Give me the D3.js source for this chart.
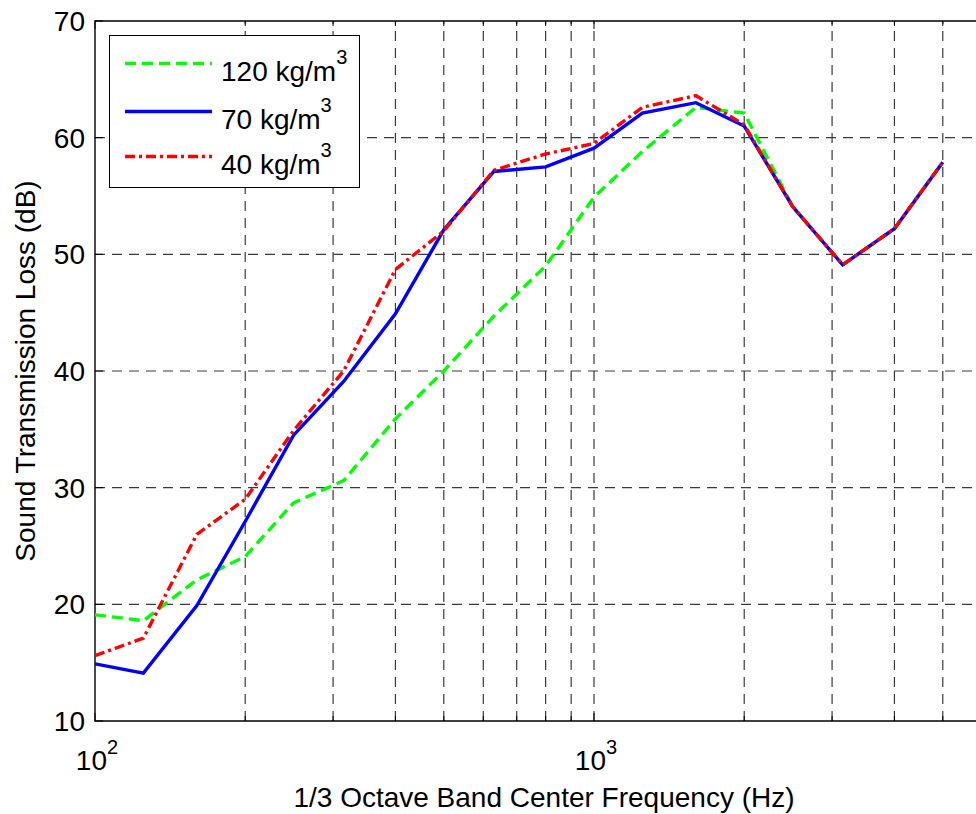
<!DOCTYPE html>
<html>
<head>
<meta charset="utf-8">
<script src="https://cdn.jsdelivr.net/npm/d3@7"></script>
<style>
  body { margin: 0; background: #fff; }
  text { font-family: "Liberation Sans", Arial, Helvetica, sans-serif; fill: #000; }
</style>
</head>
<body>
<script>
// frequencies (Hz), 1/3 octave bands
var freqs = [100, 125, 160, 200, 250, 315, 400, 500, 630, 800, 1000, 1250, 1600, 2000, 2500, 3150, 4000, 5000];

// transmission loss (dB) for each density
var tl120 = [19.1, 18.6, 22.1, 24.1, 28.7, 30.6, 35.9, 40.0, 44.7, 49.0, 54.9, 58.8, 62.6, 62.1, 54.1, 49.1, 52.2, 57.9];
var tl70 = [14.9, 14.1, 19.9, 27.1, 34.5, 39.1, 44.9, 52.1, 57.1, 57.5, 59.1, 62.1, 63.0, 61.0, 54.1, 49.1, 52.2, 57.9];
var tl40 = [15.6, 17.1, 26.0, 29.0, 34.9, 40.0, 48.7, 52.0, 57.2, 58.6, 59.5, 62.6, 63.6, 61.1, 54.1, 49.1, 52.2, 57.9];

var seriesNames = ["120 kg/m", "70 kg/m", "40 kg/m"];

// axis ticks
var yTicks = [10, 20, 30, 40, 50, 60, 70];
var xMajor = [100, 1000];
var xMajorExp = ["2", "3"];
var xMinor = [200, 300, 400, 500, 600, 700, 800, 900, 2000, 3000, 4000, 5000, 6000, 7000, 8000, 9000];

var W = 976, H = 814;
var mLeft = 95, mTop = 21, mBottom = 721, plotW = 998;
var fs = 28;

var svg = d3.select("body").append("svg")
  .attr("width", W)
  .attr("height", H);

var x = d3.scaleLog().domain([100, 10000]).range([mLeft, mLeft + plotW]);
var y = d3.scaleLinear().domain([10, 70]).range([mBottom, mTop]);

// grid
var grid = svg.append("g")
  .attr("stroke", "#3a3a3a")
  .attr("stroke-width", 1.2)
  .attr("stroke-dasharray", "10,7");

grid.selectAll("line.v")
  .data(xMinor.concat([1000]))
  .enter().append("line")
  .attr("x1", d => x(d)).attr("x2", d => x(d))
  .attr("y1", mBottom).attr("y2", mTop);

grid.selectAll("line.h")
  .data(yTicks.slice(1, -1))
  .enter().append("line")
  .attr("x1", mLeft).attr("x2", x(10000))
  .attr("y1", d => y(d)).attr("y2", d => y(d));

// tick marks
var ticks = svg.append("g").attr("stroke", "#000").attr("stroke-width", 1);
ticks.selectAll("line.xb")
  .data(xMinor.concat(xMajor))
  .enter().append("line")
  .attr("x1", d => x(d)).attr("x2", d => x(d))
  .attr("y1", mBottom).attr("y2", d => mBottom - (xMajor.includes(d) ? 8 : 5));
ticks.selectAll("line.xt")
  .data(xMinor.concat(xMajor))
  .enter().append("line")
  .attr("x1", d => x(d)).attr("x2", d => x(d))
  .attr("y1", mTop).attr("y2", d => mTop + (xMajor.includes(d) ? 8 : 5));
ticks.selectAll("line.y")
  .data(yTicks)
  .enter().append("line")
  .attr("x1", mLeft).attr("x2", mLeft + 8)
  .attr("y1", d => y(d)).attr("y2", d => y(d));

// frame
svg.append("path")
  .attr("d", `M${x(10000)},${mTop}H${mLeft}V${mBottom}H${x(10000)}`)
  .attr("fill", "none")
  .attr("stroke", "#000")
  .attr("stroke-width", 1.4);

// y tick labels
svg.selectAll("text.yt")
  .data(yTicks)
  .enter().append("text")
  .attr("x", mLeft - 10)
  .attr("y", d => y(d))
  .attr("dy", "0.36em")
  .attr("text-anchor", "end")
  .attr("font-size", fs)
  .text(d => d);

// x tick labels 10^n
xMajor.forEach(function (d, i) {
  var t = svg.append("text")
    .attr("x", x(d) + 2)
    .attr("y", 770)
    .attr("text-anchor", "middle")
    .attr("font-size", fs);
  t.append("tspan").text("10");
  t.append("tspan").attr("dy", -16).attr("font-size", 20).text(xMajorExp[i]);
});

// axis titles
svg.append("text")
  .attr("x", 544)
  .attr("y", 807)
  .attr("text-anchor", "middle")
  .attr("font-size", fs)
  .text("1/3 Octave Band Center Frequency (Hz)");

svg.append("text")
  .attr("transform", "translate(35,371) rotate(-90)")
  .attr("text-anchor", "middle")
  .attr("font-size", fs)
  .text("Sound Transmission Loss (dB)");

// lines
svg.append("clipPath").attr("id", "plot")
  .append("rect").attr("x", mLeft).attr("y", mTop).attr("width", plotW).attr("height", mBottom - mTop);

var line = d3.line()
  .x((d, i) => x(freqs[i]))
  .y(d => y(d));

var styles = [
  { data: tl120, color: "#00ff00", dash: "11,6" },
  { data: tl70, color: "#0000ff", dash: null },
  { data: tl40, color: "#ff0000", dash: "10,4,3,4" }
];

styles.forEach(function (s) {
  svg.append("path")
    .attr("d", line(s.data))
    .attr("fill", "none")
    .attr("stroke", s.color)
    .attr("stroke-width", 3.4)
    .attr("stroke-dasharray", s.dash)
    .attr("clip-path", "url(#plot)");
});

// legend
var lg = svg.append("g");
lg.append("rect")
  .attr("x", 109.5).attr("y", 35.5)
  .attr("width", 250).attr("height", 152)
  .attr("fill", "#fff")
  .attr("stroke", "#000")
  .attr("stroke-width", 1);

var rowY = [63.5, 111.5, 156.5];
styles.forEach(function (s, i) {
  lg.append("line")
    .attr("x1", 125).attr("x2", 212)
    .attr("y1", rowY[i]).attr("y2", rowY[i])
    .attr("stroke", s.color)
    .attr("stroke-width", 3.4)
    .attr("stroke-dasharray", s.dash);
  var t = lg.append("text")
    .attr("x", 221)
    .attr("y", rowY[i] + 17)
    .attr("font-size", fs);
  t.append("tspan").text(seriesNames[i]);
  t.append("tspan").attr("dy", -17).attr("font-size", 20).text("3");
});
</script>
</body>
</html>
